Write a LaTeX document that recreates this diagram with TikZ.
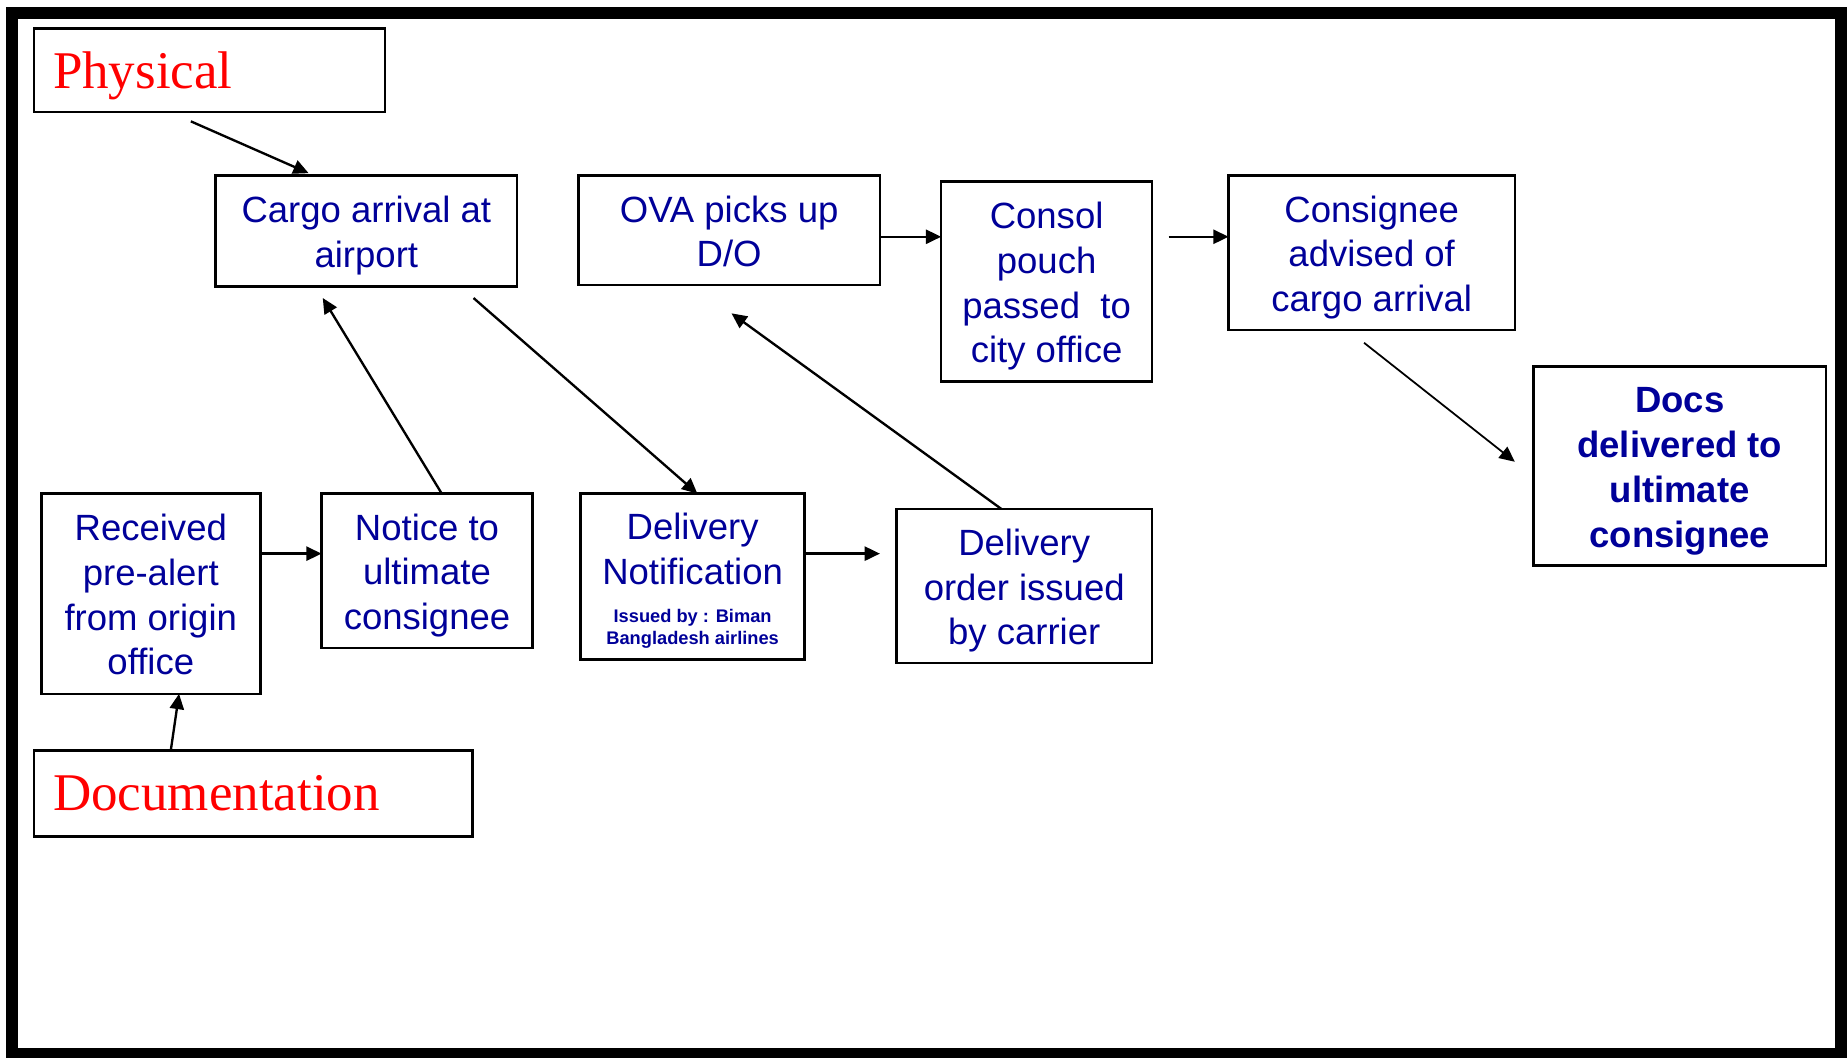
\documentclass[tikz,border=0pt]{standalone}
\usepackage{fontspec}
\newfontfamily\lsans{Liberation Sans}
\newfontfamily\lserif{Liberation Serif}
\usetikzlibrary{arrows.meta,calc}
\definecolor{navytext}{RGB}{0,0,153}
\definecolor{redlabel}{RGB}{255,0,0}
\newcommand\linestrut{\rule[-7pt]{0pt}{38pt}}
\begin{document}
\begin{tikzpicture}[x=1pt,y=-1pt,
  box/.style={draw, line width=2.2pt, rectangle, inner sep=0pt, outer sep=0pt, align=center,
    text=navytext, font=\lsans\fontsize{31}{38}\selectfont},
  boldbox/.style={box, font=\lsans\bfseries\fontsize{31}{38}\selectfont},
  txt/.style={inner sep=0pt, align=center, text=navytext, font=\lsans\fontsize{31}{38}\selectfont},
  smalltxt/.style={inner sep=0pt, align=center, text=navytext, font=\lsans\bfseries\fontsize{15.5}{19}\selectfont},
  lbl/.style={draw, line width=2.2pt, rectangle, inner xsep=16pt, inner ysep=0pt, outer sep=0pt,
    align=left, text=redlabel, text depth=0pt, font=\lserif\fontsize{45}{54}\selectfont},
  arr/.style={line width=2pt, -{Triangle[length=13pt,width=12pt]}},
  thinarr/.style={line width=1.5pt, -{Triangle[length=13pt,width=12pt]}}
]
\useasboundingbox (0,0) rectangle (1568,898);
\draw[line width=10pt] (10,11) rectangle (1563,894.5);

\node[lbl, minimum width=298pt, minimum height=71pt, text width=266pt] (phys) at (178,59.5) {Physical};
\node[lbl, minimum width=372pt, minimum height=73pt, text width=340pt] (docu) at (215,673.5) {Documentation};

\node[box, minimum width=256pt, minimum height=94pt] (cargo) at (311,196) {\linestrut Cargo arrival at\\\linestrut airport};
\node[box, minimum width=256pt, minimum height=93pt] (ova) at (619,195.5) {\linestrut OVA picks up\\\linestrut D/O};
\node[box, minimum width=179pt, minimum height=170pt] (consol) at (888.5,239) {\linestrut Consol\\\linestrut pouch\\\linestrut passed~~to\\\linestrut city office};
\node[box, minimum width=243pt, minimum height=131pt] (cons) at (1164.5,214.5) {\linestrut Consignee\\\linestrut advised of\\\linestrut cargo arrival};
\node[boldbox, minimum width=248pt, minimum height=169pt] (docs) at (1426,395.5) {\linestrut Docs\\\linestrut delivered to\\\linestrut ultimate\\\linestrut consignee};
\node[box, minimum width=186pt, minimum height=170pt] (recv) at (128,504) {\linestrut Received\\\linestrut pre-alert\\\linestrut from origin\\\linestrut office};
\node[box, minimum width=179pt, minimum height=131pt] (notice) at (362.5,484.5) {\linestrut Notice to\\\linestrut ultimate\\\linestrut consignee};
\node[box, minimum width=190pt, minimum height=141pt] (dn) at (588,489.5) {};
\node[txt] (dntitle) at (588,466) {Delivery\\Notification};
\node[smalltxt] (dnsub) at (588,534) {Issued by : Biman\\Bangladesh airlines};
\node[box, minimum width=217pt, minimum height=131pt] (dord) at (869.5,497.5) {\linestrut Delivery\\\linestrut order issued\\\linestrut by carrier};

\draw[arr] ($(phys.south west)+(133,8)$) -- ($(cargo.north west)+(79,-2)$);
\draw[arr] ($(notice.north west)+(102,0)$) -- ($(cargo.south west)+(91,10)$);
\draw[arr] ($(cargo.south west)+(219,10)$) -- ($(dn.north west)+(99,0)$);
\draw[arr] ($(recv.north east)+(0,51)$) -- ($(notice.north west)+(0,51)$);
\draw[arr] ($(docu.north west)+(116,0)$) -- ($(recv.south west)+(117,0)$);
\draw[arr] ($(dn.north east)+(0,51)$) -- ($(dord.north west)+(-14,38)$);
\draw[arr] ($(dord.north west)+(89,0)$) -- ($(ova.south west)+(130,24)$);
\draw[arr] ($(ova.north east)+(0,52)$) -- ($(consol.north west)+(0,47)$);
\draw[arr] ($(consol.north east)+(14,47)$) -- ($(cons.north west)+(0,52)$);
\draw[thinarr] ($(cons.south west)+(115,11)$) -- ($(docs.north west)+(-16,81)$);
\end{tikzpicture}
\end{document}
